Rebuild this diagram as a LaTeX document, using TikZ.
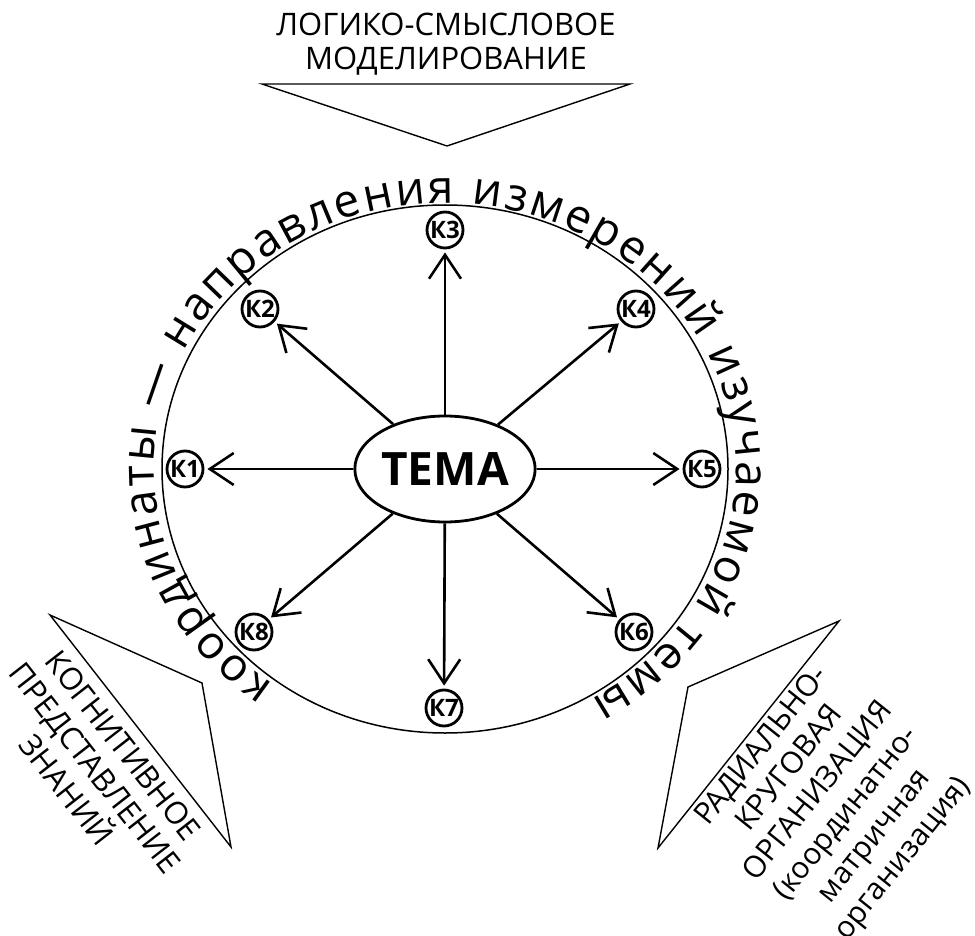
\documentclass[tikz,border=0pt]{standalone}
\usepackage{fontspec}
\setmainfont{Open Sans}
\usetikzlibrary{arrows.meta,shapes.geometric,decorations.text}
\begin{document}
\begin{tikzpicture}[x=1pt,y=1pt,
  kn/.style={circle, draw, line width=2.8pt, minimum size=36pt, inner sep=0pt,
    font=\fontsize{24}{24}\selectfont\bfseries},
  arr/.style={line width=2.6pt, -{Straight Barb[length=24pt,width=32pt]}, shorten >=3pt},
  tri/.style={draw, line width=1.4pt, line join=miter},
  lbl/.style={align=center, inner sep=0pt, font=\fontsize{31}{36}\selectfont}]

\useasboundingbox (0,0) rectangle (975,-936);

% outer ring
\node[ellipse, draw, line width=1.5pt, minimum width=566pt, minimum height=528pt, inner sep=0pt] (ring) at (445,-469) {};

% centre
\node[ellipse, draw, line width=2.8pt, minimum width=168pt, minimum height=106pt, inner sep=0pt,
  font=\fontsize{46}{46}\selectfont\bfseries] (tema) at (445,-469) {ТЕМА};

% coordinate nodes
\node[kn] (k1) at (185,-469) {К1};
\node[kn] (k2) at (260,-309) {К2};
\node[kn] (k3) at (445,-230) {К3};
\node[kn] (k4) at (636,-309) {К4};
\node[kn] (k5) at (702,-469) {К5};
\node[kn] (k6) at (634,-632) {К6};
\node[kn] (k7) at (444,-708) {К7};
\node[kn] (k8) at (254,-632) {К8};

\foreach \k in {k1,k2,k3,k4,k5,k6,k7,k8}
  \draw[arr] (tema) -- (\k);

% text around the ring
\path[decorate, decoration={text along path, text align=fit to path,
  text={|\fontsize{46}{46}\selectfont|координаты — направления измерений изучаемой темы}}]
  (445,-469) ++(234:291 and 266) arc[start angle=234, end angle=-60, x radius=291, y radius=266];

% triangles
\draw[tri] (262,-84) -- (630,-84) -- (447,-146) -- cycle;
\draw[tri] (50,-615) -- (202,-683) -- (231,-847) -- cycle;
\draw[tri] (839,-621) -- (688,-687) -- (658,-848) -- cycle;

% labels
\node[lbl, anchor=north, font=\fontsize{31}{34}\selectfont] (ttop) at (446,-13) {ЛОГИКО-СМЫСЛОВОЕ\\МОДЕЛИРОВАНИЕ};
\node[lbl, rotate=-52] (tleft) at (95,-768) {КОГНИТИВНОЕ\\ПРЕДСТАВЛЕНИЕ\\ЗНАНИЙ};
\node[lbl, rotate=51.4, font=\fontsize{30}{36}\selectfont] (tright) at (833,-803) {РАДИАЛЬНО-\\КРУГОВАЯ\\ОРГАНИЗАЦИЯ\\(координатно-\\матричная\\организация)};
\end{tikzpicture}
\end{document}
